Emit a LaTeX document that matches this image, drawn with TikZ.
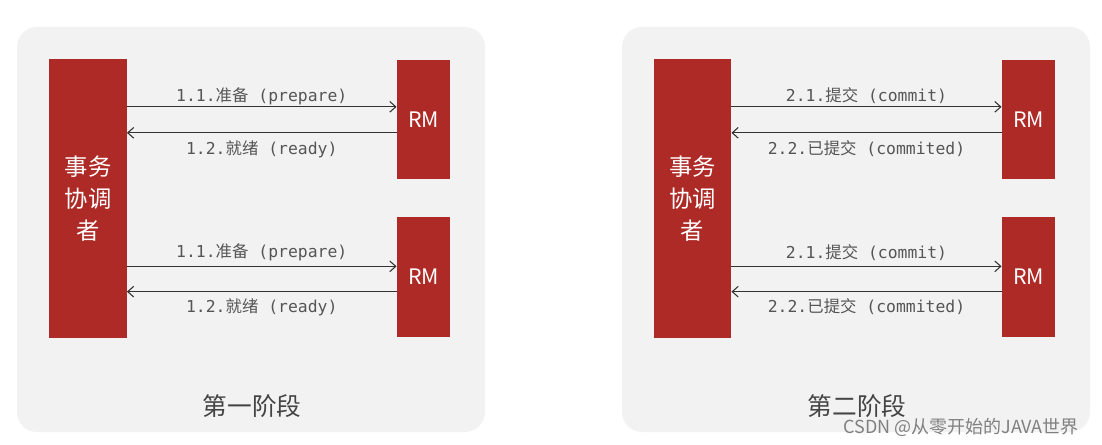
\documentclass[tikz,border=0pt]{standalone}
\usepackage{fontspec}
\setmainfont{Noto Sans CJK SC}
\newfontfamily\cjk{Noto Sans CJK SC}
\newfontfamily\codefont{DejaVu Sans Mono}
\usetikzlibrary{arrows.meta,positioning}
\definecolor{txred}{HTML}{AD2A26}
\definecolor{panelgray}{HTML}{F2F2F2}
\definecolor{labelgray}{HTML}{555555}
\definecolor{titlegray}{HTML}{444444}
\newcommand{\msglabel}[3]{{\codefont #1}{\cjk #2}{\codefont\ (#3)}}

\begin{document}
\begin{tikzpicture}[x=0.75pt, y=-0.75pt,
    coord/.style={fill=txred, text=white, minimum width=58pt, minimum height=209pt,
        inner sep=0pt, align=center, font=\fontsize{17.5}{24}\selectfont},
    rmbox/.style={fill=txred, text=white, minimum width=40pt, minimum height=89.5pt,
        inner sep=0pt, font=\fontsize{16}{18}\selectfont},
    msg/.style={draw=black!80, line width=0.8pt, -{Straight Barb[length=4.5pt,width=8pt]}},
    lbl/.style={text=labelgray, inner sep=1pt, font=\fontsize{12.3}{14}\selectfont},
    stage/.style={text=titlegray, font=\fontsize{18.5}{20}\selectfont}]
    \useasboundingbox (0,0) rectangle (1102,445);

    % Panels
    \fill[panelgray, rounded corners=15pt] (17,27) rectangle (485,432);
    \fill[panelgray, rounded corners=15pt] (622,27) rectangle (1090,432);

    % Phase 1: prepare
    \node[coord] (co1) at (88,198.5) {事务\\协调\\者};
    \node[rmbox] (rm1a) at (423.5,119.5) {RM};
    \node[rmbox] (rm1b) at (423.5,277) {RM};
    \draw[msg] ([yshift=9.5pt]co1.east |- rm1a.west) -- node[lbl, above=0pt] {\msglabel{1.1.}{准备}{prepare}} ([yshift=9.5pt]rm1a.west);
    \draw[msg] ([yshift=-10pt]rm1a.west) -- node[lbl, below=4.5pt] {\msglabel{1.2.}{就绪}{ready}} ([yshift=-10pt]co1.east |- rm1a.west);
    \draw[msg] ([yshift=8pt]co1.east |- rm1b.west) -- node[lbl, above=3pt] {\msglabel{1.1.}{准备}{prepare}} ([yshift=8pt]rm1b.west);
    \draw[msg] ([yshift=-11pt]rm1b.west) -- node[lbl, below=3.5pt] {\msglabel{1.2.}{就绪}{ready}} ([yshift=-11pt]co1.east |- rm1b.west);
    \node[stage] (st1) at (252,406) {第一阶段};

    % Phase 2: commit
    \node[coord] (co2) at (692.5,198.5) {事务\\协调\\者};
    \node[rmbox] (rm2a) at (1028.5,119.5) {RM};
    \node[rmbox] (rm2b) at (1028.5,277) {RM};
    \draw[msg] ([yshift=9.5pt]co2.east |- rm2a.west) -- node[lbl, above=1pt] {\msglabel{2.1.}{提交}{commit}} ([yshift=9.5pt]rm2a.west);
    \draw[msg] ([yshift=-10pt]rm2a.west) -- node[lbl, below=4.5pt] {\msglabel{2.2.}{已提交}{commited}} ([yshift=-10pt]co2.east |- rm2a.west);
    \draw[msg] ([yshift=8pt]co2.east |- rm2b.west) -- node[lbl, above=3pt] {\msglabel{2.1.}{提交}{commit}} ([yshift=8pt]rm2b.west);
    \draw[msg] ([yshift=-11pt]rm2b.west) -- node[lbl, below=3.5pt] {\msglabel{2.2.}{已提交}{commited}} ([yshift=-11pt]co2.east |- rm2b.west);
    \node[stage] (st2) at (857,406) {第二阶段};

    % Watermark
    \node[text=black!50, font=\fontsize{13.5}{15}\selectfont] (mark) at (961,427) {CSDN @从零开始的JAVA世界};
\end{tikzpicture}
\end{document}
